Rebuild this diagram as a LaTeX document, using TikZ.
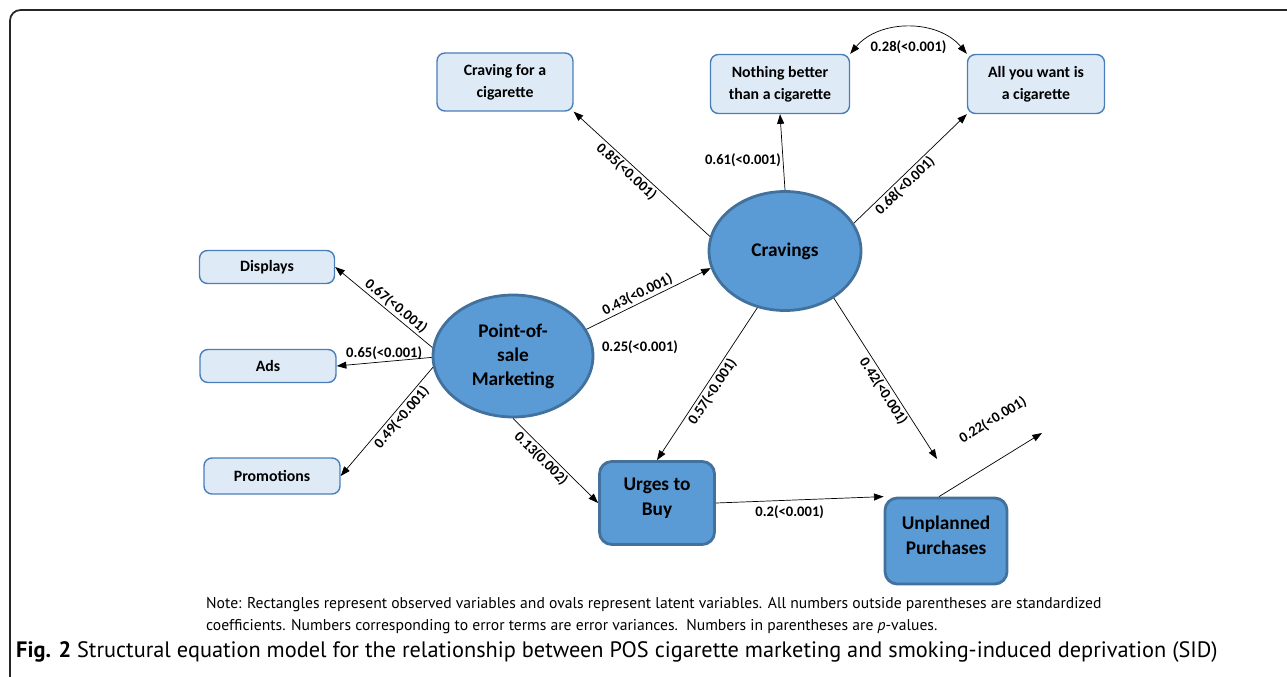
\documentclass[tikz,border=0pt]{standalone}
\usepackage{fontspec}
\setmainfont{Carlito}
\newfontfamily\notefont{PT Sans}
\usetikzlibrary{shapes.geometric,arrows.meta}
\definecolor{obsfill}{HTML}{DEEBF7}
\definecolor{obsdraw}{HTML}{4A7EBB}
\definecolor{latfill}{HTML}{5B9BD5}
\definecolor{latdraw}{HTML}{41719C}
\tikzset{>={Triangle[length=5.5pt,width=4pt]}}
\tikzstyle{obs} = [rectangle, rounded corners=4.5pt, draw=obsdraw, fill=obsfill, line width=0.8pt, minimum width=2.72cm, align=center, font=\fontsize{9}{12.5}\selectfont\bfseries]
\tikzstyle{lat} = [ellipse, draw=latdraw, fill=latfill, line width=1.6pt, align=center, inner sep=0pt, font=\fontsize{11}{13.6}\selectfont\bfseries]
\tikzstyle{big} = [rectangle, rounded corners=7pt, draw=latdraw, fill=latfill, line width=1.6pt, align=center, text depth=7pt, font=\fontsize{11}{14.2}\selectfont\bfseries]
\tikzstyle{arr} = [->, line width=0.4pt]
\tikzstyle{coef} = [font=\fontsize{8.3}{9}\selectfont\bfseries, inner sep=1pt]

\begin{document}
\begin{tikzpicture}[x=0.02cm, y=-0.02cm]
    \useasboundingbox (0,0) rectangle (1287,676);
    \draw[line width=1pt, black!85, rounded corners=6pt] (10,700) -- (10,10) -- (1300,10);
    \node[obs, minimum height=1.16cm] (crv) at (505,82) {Craving for a\\cigarette};
    \node[obs, minimum height=1.18cm, minimum width=2.78cm] (nbt) at (780,84) {Nothing better\\than a cigarette};
    \node[obs, minimum height=1.18cm, minimum width=2.74cm] (awc) at (1036,84) {All you want is\\a cigarette};
    \node[obs, minimum height=0.66cm, minimum width=2.7cm] (dsp) at (267,267) {Displays};
    \node[obs, minimum height=0.66cm] (ads) at (268,366) {Ads};
    \node[obs, minimum height=0.72cm] (prm) at (272,476) {Promotions};
    \node[lat, minimum width=3.04cm, minimum height=2.38cm] (cra) at (785,251) {Cravings};
    \node[lat, minimum width=3.2cm, minimum height=2.44cm] (pos) at (513,356) {Point-of-\\sale\\Marketing};
    \node[big, minimum width=2.3cm, minimum height=1.66cm] (utb) at (657,503) {Urges to\\Buy};
    \node[big, minimum width=2.44cm, minimum height=1.72cm] (upc) at (946,541) {Unplanned\\Purchases};
    \coordinate (e42) at (937,459);
    \coordinate (e22) at (1042,433);
    \node[coef] (v25) at (640,347) {0.25(<0.001)};
    \draw[arr] (cra.169) -- node[coef, sloped, below, pos=0.57] {0.85(<0.001)} (crv.south east);
    \draw[arr] (cra.north) -- node[coef, left, pos=0.4] {0.61(<0.001)} (nbt.south);
    \draw[arr] (cra.22) -- node[coef, sloped, below, pos=0.4] {0.68(<0.001)} (awc.south west);
    \draw[<->, line width=0.4pt] (nbt.north east) to[bend left=50] node[coef, below=6pt] {0.28(<0.001)} (awc.north west);
    \draw[arr] (pos.174) -- node[coef, sloped, above, pos=0.43] {0.67(<0.001)} (dsp.east);
    \draw[arr] (pos.181) -- node[coef, above, pos=0.5] {0.65(<0.001)} (ads.east);
    \draw[arr] (pos.188) -- node[coef, sloped, below, pos=0.41] {0.49(<0.001)} (prm.east);
    \draw[arr] (pos.south) -- node[coef, sloped, below, pos=0.4] {0.13(0.002)} (utb.west);
    \draw[arr] (pos.20) -- node[coef, sloped, above, pos=0.44] {0.43(<0.001)} (cra.193);
    \draw[arr] (cra.244) -- node[coef, sloped, below, pos=0.52] {0.57(<0.001)} (utb.north);
    \draw[arr] (cra.316) -- node[coef, sloped, below, pos=0.55] {0.42(<0.001)} (e42);
    \draw[arr] ([xshift=-4pt]upc.north) -- node[coef, sloped, above=16pt, pos=0.71] {0.22(<0.001)} (e22);
    \draw[arr] (utb.east) -- node[coef, below=2pt, pos=0.44] {0.2(<0.001)} (upc.north west);
    \node[anchor=west, align=left, font=\notefont\fontsize{8.9}{12.5}\selectfont] (note) at (200,616) {Note: Rectangles represent observed variables and ovals represent latent variables. All numbers outside parentheses are standardized\\coefficients. Numbers corresponding to error terms are error variances.\ \ Numbers in parentheses are \textit{p}-values.};
    \node[anchor=west, font=\notefont\fontsize{12.7}{14}\selectfont] (cap) at (10,652) {\textbf{Fig. 2} Structural equation model for the relationship between POS cigarette marketing and smoking-induced deprivation (SID)};
\end{tikzpicture}
\end{document}
